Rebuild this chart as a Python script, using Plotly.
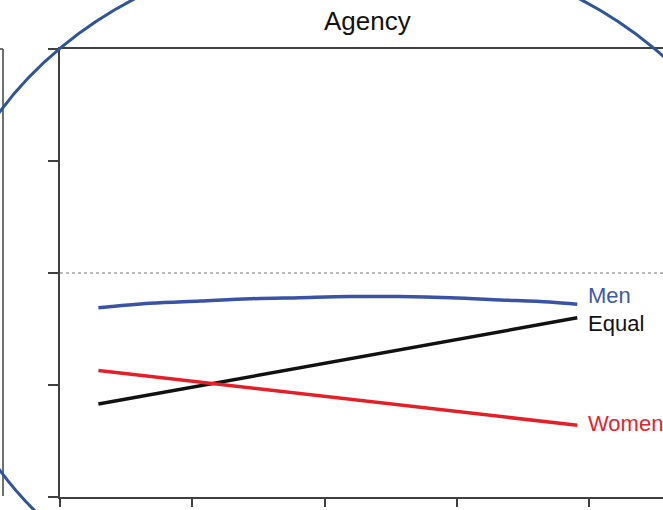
import plotly.graph_objects as go

# ---- data (axis units = tick steps) ----
men_x = [0.29, 0.68, 1.06, 1.44, 1.81, 2.19, 2.57, 2.95, 3.33, 3.70, 3.91]
men_y = [1.69, 1.73, 1.75, 1.77, 1.78, 1.79, 1.79, 1.78, 1.76, 1.74, 1.72]
equal_x = [0.29, 3.91]
equal_y = [0.83, 1.60]
women_x = [0.29, 3.91]
women_y = [1.13, 0.64]
ref_level = 2.0
x_ticks = [0, 1, 2, 3, 4]
y_ticks = [0, 1, 2, 3, 4]
labels = ["Men", "Equal", "Women"]
title_text = "Agency"

# ---- layout geometry ----
W, H = 663, 510
L, R, T, B = 60, 0, 49, 13
PW, PH = W - L - R, H - T - B


def px(x):
    return (x - L) / PW


def py(y):
    return (H - B - y) / PH


BLUE = "#3a53a4"
RED = "#e3202a"
BLACK = "#111111"
AX = "#404040"
SANS = "Liberation Sans, Arial, sans-serif"

fig = go.Figure()
fig.add_trace(go.Scatter(x=men_x, y=men_y, mode="lines", line=dict(color=BLUE, width=3.5, shape="spline"),
                         name=labels[0], showlegend=False))
fig.add_trace(go.Scatter(x=equal_x, y=equal_y, mode="lines", line=dict(color=BLACK, width=3.5),
                         name=labels[1], showlegend=False))
fig.add_trace(go.Scatter(x=women_x, y=women_y, mode="lines", line=dict(color=RED, width=3.5),
                         name=labels[2], showlegend=False))

label_y = [1.795, 1.545, 0.652]
label_c = ["#4058a8", "#111111", "#e0252f"]
for t, yy, c in zip(labels, label_y, label_c):
    fig.add_annotation(x=(586 - L) / 132.3, y=yy, xref="x", yref="y", text=t, showarrow=False,
                       xanchor="left", yanchor="middle",
                       font=dict(family=SANS, size=22, color=c))

fig.add_annotation(x=px(367), y=py(21), xref="paper", yref="paper", text=title_text,
                   showarrow=False, xanchor="center", yanchor="middle",
                   font=dict(family=SANS, size=26, color="#111111"))

# dotted reference line
fig.add_shape(type="line", xref="paper", yref="y", x0=0, x1=1, y0=ref_level, y1=ref_level,
              line=dict(color="#777777", width=1.2, dash="dot"), layer="below")

# fragment of previous panel at left edge
fig.add_shape(type="line", xref="paper", yref="paper", x0=px(3), x1=px(3), y0=py(496), y1=py(49),
              line=dict(color=AX, width=1.5))
fig.add_shape(type="line", xref="paper", yref="paper", x0=px(-2), x1=px(3), y0=py(49), y1=py(49),
              line=dict(color=AX, width=1.5))

# large blue ellipse overlay
cx, cy, a, b = 357, 291, 418, 345
fig.add_shape(type="circle", xref="paper", yref="paper",
              x0=px(cx - a), x1=px(cx + a), y0=py(cy + b), y1=py(cy - b),
              line=dict(color="#2e5597", width=3), layer="above")

fig.update_layout(
    width=W, height=H,
    margin=dict(l=L, r=R, t=T, b=B, pad=0),
    paper_bgcolor="white", plot_bgcolor="white",
    showlegend=False,
    xaxis=dict(range=[0, PW / 132.3], tickvals=x_ticks, ticks="outside", ticklen=8, tickwidth=1.5,
               tickcolor=AX, showline=True, linecolor=AX, linewidth=1.5, mirror=True,
               showgrid=False, zeroline=False, showticklabels=False, fixedrange=True),
    yaxis=dict(range=[0, 4], tickvals=y_ticks, ticks="outside", ticklen=10, tickwidth=1.5,
               tickcolor=AX, showline=True, linecolor=AX, linewidth=1.5,
               showgrid=False, zeroline=False, showticklabels=False, fixedrange=True),
)

fig.write_html("out.html", config={"displayModeBar": False},
               post_script="document.body.style.margin='0';document.body.style.overflow='hidden';")
